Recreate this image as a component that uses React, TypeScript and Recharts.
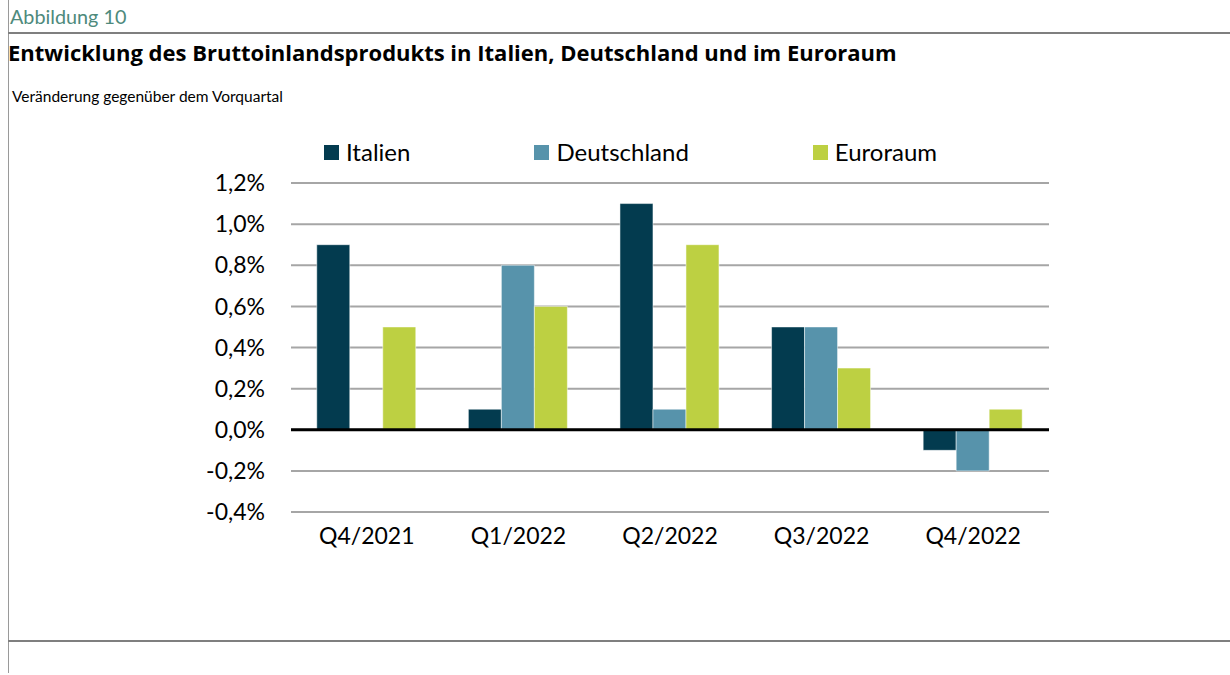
import React from 'react'
import {
  BarChart,
  Bar,
  XAxis,
  YAxis,
  CartesianGrid,
  ReferenceLine,
} from 'recharts'

const QUARTERS = ['Q4/2021', 'Q1/2022', 'Q2/2022', 'Q3/2022', 'Q4/2022']
const ITALIEN = [0.9, 0.1, 1.1, 0.5, -0.1]
const DEUTSCHLAND = [0.0, 0.8, 0.1, 0.5, -0.2]
const EURORAUM = [0.5, 0.6, 0.9, 0.3, 0.1]
const Y_TICKS = [-0.4, -0.2, 0, 0.2, 0.4, 0.6, 0.8, 1.0, 1.2]

const SERIES = [
  { key: 'italien', name: 'Italien', color: '#033b4f' },
  { key: 'deutschland', name: 'Deutschland', color: '#5793ab' },
  { key: 'euroraum', name: 'Euroraum', color: '#bdd042' },
]

const FONT = 'Lato, "Open Sans", sans-serif'
const TITLE_FONT = '"Open Sans", Lato, sans-serif'

const data = QUARTERS.map((q, i) => ({
  quarter: q,
  italien: ITALIEN[i],
  deutschland: DEUTSCHLAND[i],
  euroraum: EURORAUM[i],
}))

const fmt = (v: number) => v.toFixed(1).replace('.', ',') + '%'

// legend drawn as html above the plot, items spaced like the excel original
function LegendRow() {
  return (
    <div style={{ display: 'flex', gap: 124, fontFamily: FONT, fontSize: 24, color: '#000', lineHeight: '28px' }}>
      {SERIES.map(s => (
        <div key={s.key} style={{ display: 'flex', alignItems: 'center' }}>
          <span style={{ width: 15, height: 15, background: s.color, marginRight: 7, display: 'inline-block' }} />
          <span>{s.name}</span>
        </div>
      ))}
    </div>
  )
}

export default function App() {
  return (
    <div style={{ position: 'absolute', left: 0, top: 0, width: 1230, height: 675, background: '#fff', fontFamily: FONT }}>
      {/* frame lines */}
      <div style={{ position: 'absolute', left: 8, top: 0, width: 1, height: 673, background: '#9a9a9a' }} />
      <div style={{ position: 'absolute', left: 8, top: 32, width: 1222, height: 2, background: '#7f7f7f' }} />
      <div style={{ position: 'absolute', left: 8, top: 640, width: 1222, height: 2, background: '#7f7f7f' }} />

      <div style={{ position: 'absolute', left: 10, top: 4, fontSize: 19.8, lineHeight: '24px', color: '#4e8a7c' }}>Abbildung 10</div>
      <div style={{ position: 'absolute', left: 8, top: 38, fontSize: 22, lineHeight: '28px', fontWeight: 700, color: '#000', fontFamily: TITLE_FONT, whiteSpace: 'nowrap' }}>
        Entwicklung des Bruttoinlandsprodukts in Italien, Deutschland und im Euroraum
      </div>
      <div style={{ position: 'absolute', left: 12, top: 85, fontSize: 15.5, lineHeight: '22px', color: '#000' }}>
        Veränderung gegenüber dem Vorquartal
      </div>

      <div style={{ position: 'absolute', left: 324, top: 138 }}>
        <LegendRow />
      </div>

      <div style={{ position: 'absolute', left: 0, top: 0 }}>
        <BarChart
          width={1230}
          height={675}
          data={data}
          margin={{ top: 183, right: 181, bottom: 133, left: 211 }}
          barCategoryGap="17%"
          barGap={0}
        >
          <CartesianGrid vertical={false} stroke="#a6a6a6" strokeWidth={2} />
          <YAxis
            width={80}
            domain={[-0.4, 1.2]}
            ticks={Y_TICKS}
            tickFormatter={fmt}
            axisLine={false}
            tickLine={false}
            tickMargin={20}
            tick={{ fill: '#000', fontSize: 23, fontFamily: FONT }}
            interval={0}
          />
          <XAxis
            dataKey="quarter"
            axisLine={false}
            tickLine={false}
            tickMargin={10}
            tick={{ fill: '#000', fontSize: 23, fontFamily: FONT }}
            interval={0}
          />
          {SERIES.map(s => (
            <Bar
              key={s.key}
              dataKey={s.key}
              name={s.name}
              fill={s.color}
              stroke="#ffffff"
              strokeWidth={0.5}
              isAnimationActive={false}
            />
          ))}
          <ReferenceLine y={0} stroke="#000" strokeWidth={3} />
        </BarChart>
      </div>
    </div>
  )
}
